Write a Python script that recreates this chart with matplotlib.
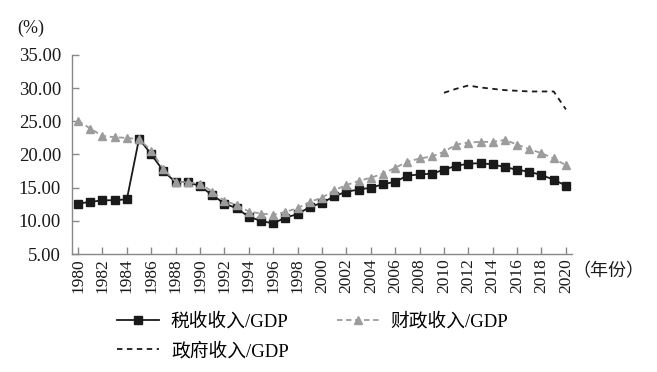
import numpy as np
import matplotlib
matplotlib.use("Agg")
import matplotlib.pyplot as plt
from matplotlib.ticker import FormatStrFormatter

plt.rcParams['font.family'] = ['Liberation Serif', 'Noto Sans CJK SC']

# ── Données ──────────────────────────────────────────────────
years = list(range(1980, 2021))

tax_gdp = [12.6, 12.85, 13.1, 13.1, 13.25, 22.4, 20.0, 17.5, 15.8, 15.9,
           15.2, 13.9, 12.6, 11.9, 10.6, 10.0, 9.6, 10.5, 11.0, 12.1,
           12.7, 13.7, 14.4, 14.7, 15.0, 15.5, 15.9, 16.8, 17.0, 17.1,
           17.7, 18.3, 18.6, 18.7, 18.5, 18.1, 17.7, 17.4, 16.9, 16.2,
           15.3]

fiscal_gdp = [25.1, 23.9, 22.8, 22.6, 22.5, 22.3, 20.6, 17.8, 15.9, 15.8,
              15.6, 14.4, 13.0, 12.4, 11.4, 11.1, 10.9, 11.35, 11.9, 12.85,
              13.5, 14.6, 15.4, 16.0, 16.5, 17.1, 18.0, 18.9, 19.4, 19.7,
              20.4, 21.5, 21.8, 21.9, 21.9, 22.2, 21.5, 20.8, 20.2, 19.4,
              18.4]

gov_years = list(range(2010, 2021))
gov_gdp = [29.3, 29.9, 30.4, 30.1, 29.9, 29.7, 29.6, 29.5, 29.5, 29.5, 26.8]

y_ticks = [5, 10, 15, 20, 25, 30, 35]
x_ticks = list(range(1980, 2021, 2))

# ── Figure ───────────────────────────────────────────────────
fig = plt.figure(figsize=(6.57, 3.72), dpi=100)
ax = fig.add_axes([0.1096, 0.3172, 0.7610, 0.5350])

l_tax, = ax.plot(years, tax_gdp, color='#1a1a1a', lw=1.3,
                 marker='s', markersize=5.5, label='税收收入/GDP')
l_fis, = ax.plot(years, fiscal_gdp, color='#9c9c9c', lw=1.3,
                 linestyle=(0, (3, 2)), marker='^', markersize=6,
                 label='财政收入/GDP')
l_gov, = ax.plot(gov_years, gov_gdp, color='#1a1a1a', lw=1.3,
                 linestyle=(0, (3, 2.5)), label='政府收入/GDP')

ax.set_xlim(1979.5, 2020.5)
ax.set_ylim(5, 35)
ax.set_yticks(y_ticks)
ax.yaxis.set_major_formatter(FormatStrFormatter('%.2f'))
ax.set_xticks(x_ticks)
ax.set_xticklabels([str(y) for y in x_ticks], rotation=90)

for s in ['top', 'right']:
    ax.spines[s].set_visible(False)
for s in ['left', 'bottom']:
    ax.spines[s].set_color('#888888')
    ax.spines[s].set_linewidth(1.0)
ax.tick_params(axis='both', direction='in', colors='#888888',
               labelcolor='#1a1a1a', length=5, width=1.0)
ax.tick_params(axis='y', labelsize=13.5, pad=8)
ax.tick_params(axis='x', labelsize=12.5, pad=3)

fig.text(0.027, 0.925, '(%)', fontsize=13, color='#1a1a1a', va='center')
fig.text(0.871, 0.27, '（年份）', fontsize=13, color='#1a1a1a', va='center')

fig.legend(handles=[l_tax, l_gov, l_fis], ncol=2, frameon=False,
           loc='upper left', bbox_to_anchor=(0.178, 0.158),
           fontsize=13.5, handlelength=2.24, handletextpad=0.64,
           columnspacing=2.55, labelspacing=0.6, borderpad=0,
           borderaxespad=0)

plt.savefig('out.png', dpi=100)
